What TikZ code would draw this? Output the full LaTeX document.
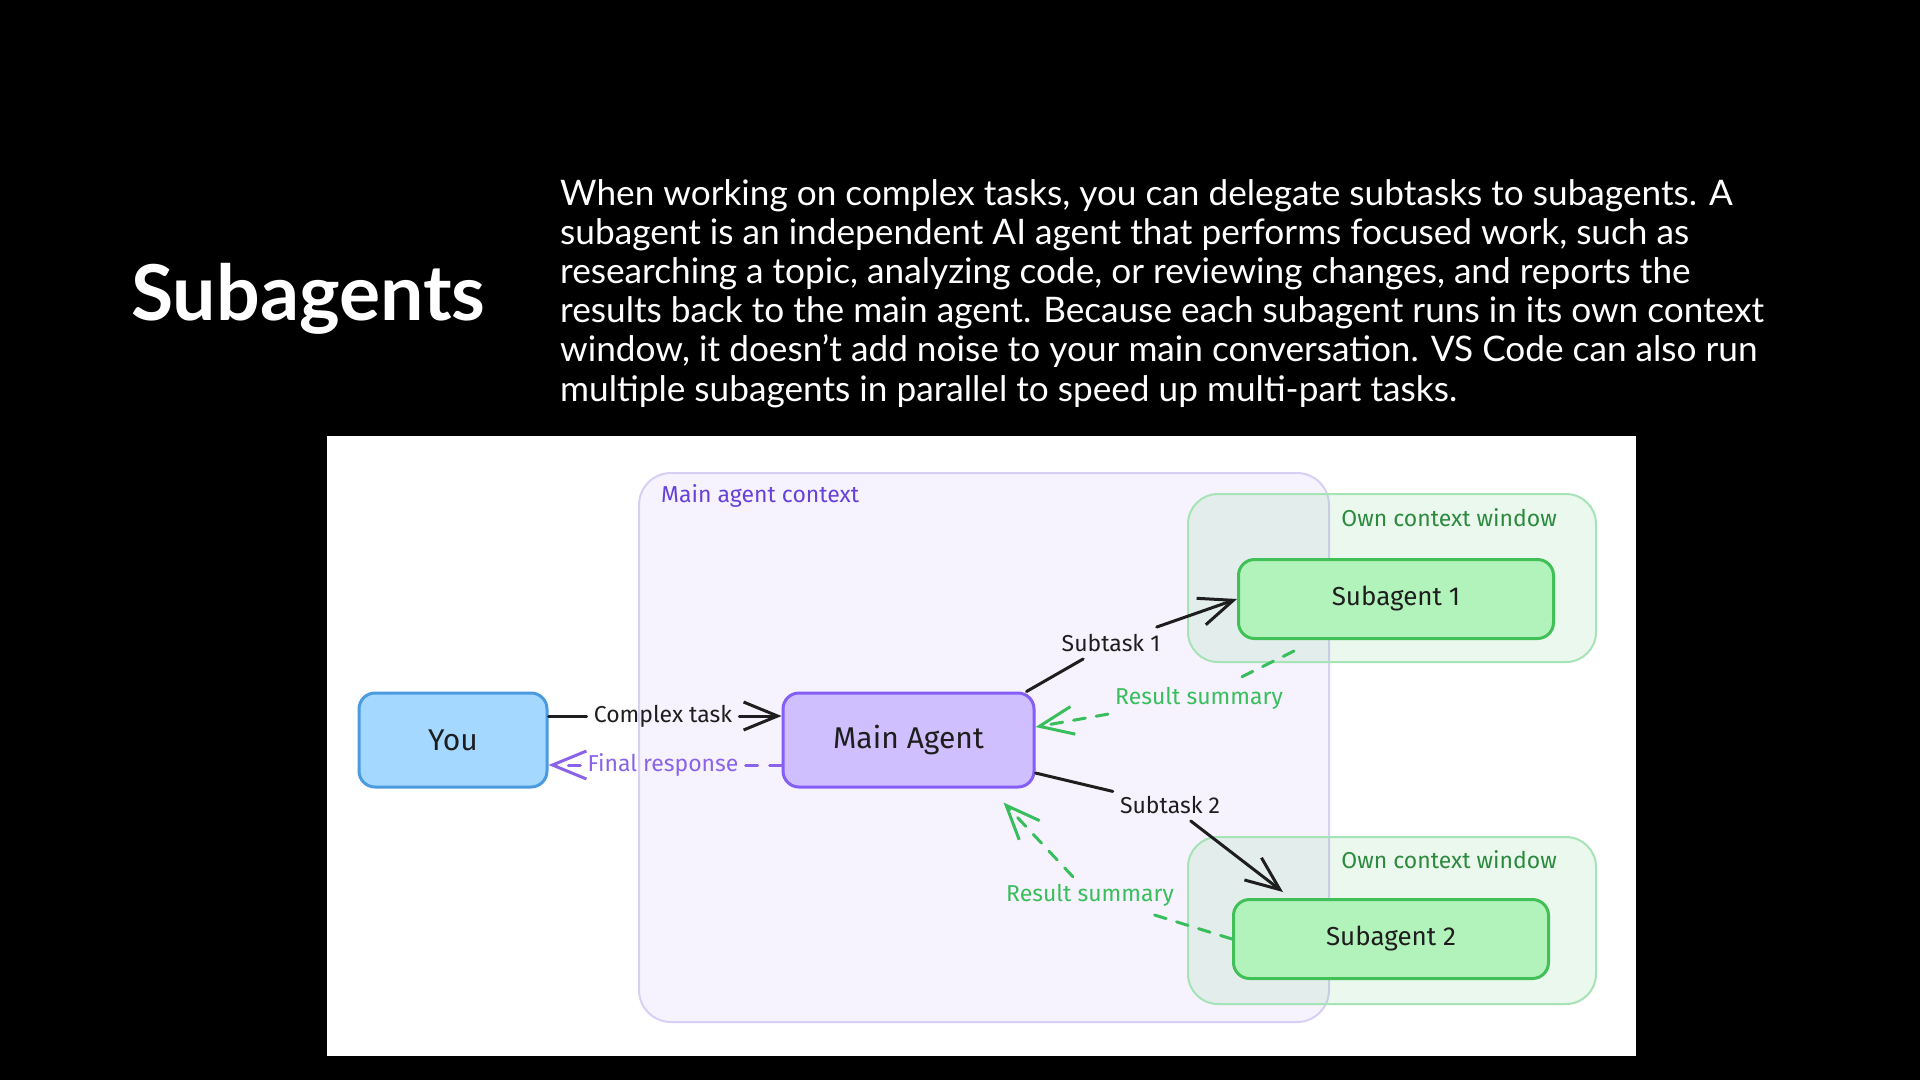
\documentclass[tikz,border=0pt]{standalone}
\usepackage{fontspec}
\setmainfont{Lato}
\newfontfamily\sketchfont{Fira Sans}
\usetikzlibrary{arrows.meta,positioning}
\definecolor{inkblack}{HTML}{1E1E1E}
\definecolor{youfill}{HTML}{A5D8FF}
\definecolor{youdraw}{HTML}{4A9BE0}
\definecolor{mainfill}{HTML}{D0BFFF}
\definecolor{maindraw}{HTML}{845EF7}
\definecolor{subfill}{HTML}{B2F2BB}
\definecolor{subdraw}{HTML}{40C057}
\definecolor{ctxfill}{HTML}{F6F3FE}
\definecolor{ctxdraw}{HTML}{D8CFF5}
\definecolor{owndraw}{HTML}{A6E3B6}
\definecolor{ctxviolet}{HTML}{6741D9}
\definecolor{owngreen}{HTML}{2B8A3E}
\definecolor{resultgreen}{HTML}{38BE5C}
\definecolor{finalpurple}{HTML}{8A63E8}
\tikzset{
  % Base styles
  slide base/.style={x=1pt, y=-1pt, line cap=round, line join=round},
  title text/.style={font=\fontsize{77}{80}\selectfont\bfseries, text=white, inner sep=0pt},
  body text/.style={font=\fontsize{35.2}{39.2}\selectfont, text=white, align=left, inner sep=0pt},
  % Agent boxes
  agent box/.style={rectangle, draw, line width=3pt, rounded corners=16pt, inner sep=0pt,
    font=\sketchfont\fontsize{30}{34}\selectfont, text=inkblack},
  you box/.style={agent box, draw=youdraw, fill=youfill, minimum width=188pt, minimum height=94pt},
  main box/.style={agent box, draw=maindraw, fill=mainfill, minimum width=251pt, minimum height=94pt},
  sub box/.style={agent box, draw=subdraw, fill=subfill, minimum width=315pt, minimum height=79pt,
    font=\sketchfont\fontsize{26}{30}\selectfont},
  % Context regions
  main context/.style={draw=ctxdraw, fill=ctxfill, line width=2pt, rounded corners=32pt},
  own context/.style={draw=owndraw, fill=subdraw, fill opacity=0.1, line width=2pt, rounded corners=30pt},
  region label/.style={font=\sketchfont\fontsize{23}{26}\selectfont, inner sep=0pt},
  % Connectors
  task line/.style={draw=inkblack, line width=3pt},
  result line/.style={draw=resultgreen, line width=3pt, dash pattern=on 12pt off 11pt},
  final line/.style={draw=finalpurple, line width=3pt, dash pattern=on 12pt off 12pt},
  barb/.style={-{Straight Barb[length=34pt, width=28pt]}},
  % Edge labels
  edge label/.style={font=\sketchfont\fontsize{23}{26}\selectfont, text=inkblack, inner sep=7pt},
}

\begin{document}
\begin{tikzpicture}[slide base]
% Slide background and panel
\fill[black] (0,0) rectangle (1920,1080);
\fill[white] (327,436) rectangle (1636,1056);

% Heading and text
\node[title text, anchor=base west] (title) at (131,320) {Subagents};
\node[body text, anchor=north west] (intro) at (560,179) {When working on complex tasks, you can delegate subtasks to subagents. A\\
subagent is an independent AI agent that performs focused work, such as\\
researching a topic, analyzing code, or reviewing changes, and reports the\\
results back to the main agent. Because each subagent runs in its own context\\
window, it doesn't add noise to your main conversation. VS Code can also run\\
multiple subagents in parallel to speed up multi-part tasks.};

% Context regions
\draw[main context] (639,473) rectangle (1329,1022);
\draw[own context] (1188,494) rectangle (1596,662);
\draw[own context] (1188,837) rectangle (1596,1004);
\node[region label, text=ctxviolet, anchor=west] (main ctx) at (661,496) {Main agent context};
\node[region label, text=owngreen, anchor=east] (own ctx 1) at (1557,518) {Own context window};
\node[region label, text=owngreen, anchor=east] (own ctx 2) at (1557,860) {Own context window};

% Agents
\node[you box] (you) at (453,740) {You};
\node[main box, right=233pt of you] (main) {Main Agent};
\node[sub box] (sub1) at (1396,599) {Subagent 1};
\node[sub box] (sub2) at (1391,939) {Subagent 2};

% Edge labels
\node[edge label] (ct) at (663,716) {Complex task};
\node[edge label, text=finalpurple] (fr) at (663,765) {Final response};
\node[edge label] (st1) at (1111,643) {Subtask 1};
\node[edge label, text=resultgreen] (rs1) at (1199,698) {Result summary};
\node[edge label] (st2) at (1170,805) {Subtask 2};
\node[edge label, text=resultgreen] (rs2) at (1090,895) {Result summary};

% Edges
\draw[task line] (you.east |- ct) -- (ct);
\draw[task line, barb] (ct) -- (main.west |- ct);
\draw[final line] (main.west |- fr) -- (fr);
\draw[final line, barb] (fr) -- (you.east |- fr);
\draw[task line] ([xshift=-9pt]main.north east) -- (st1);
\draw[task line, barb] (st1) -- (sub1.west);
\draw[result line] ([xshift=57pt,yshift=-11pt]sub1.south west) -- (rs1);
\draw[result line, barb] (rs1) -- ([yshift=13pt]main.east);
\draw[task line] ([yshift=-33pt]main.east) -- (st2);
\draw[task line, barb] (st2) -- ([xshift=51pt,yshift=6pt]sub2.north west);
\draw[result line] (sub2.west) -- (rs2);
\draw[result line, barb] (rs2) -- ([xshift=95pt,yshift=-14pt]main.south);
\end{tikzpicture}
\end{document}
